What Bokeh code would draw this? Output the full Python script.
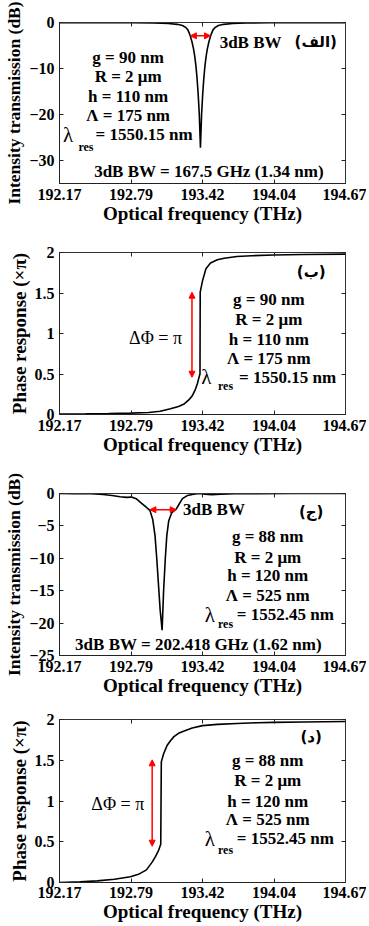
from bokeh.plotting import figure
from bokeh.layouts import column
from bokeh.models import FixedTicker, LinearAxis, Arrow, NormalHead, Range1d
from bokeh.core.properties import value
from bokeh.embed import file_html
from bokeh.resources import INLINE

# ---------------- data ----------------
x_ticks = [192.17, 192.795, 193.42, 194.045, 194.67]
x_tick_labels = ["192.17", "192.79", "193.42", "194.04", "194.67"]

# (a) intensity transmission, design 1
freq_a = [192.17, 192.50, 192.80, 193.00, 193.12, 193.20, 193.245, 193.272, 193.292, 193.304,
          193.314, 193.329, 193.342, 193.352, 193.362, 193.372, 193.382, 193.392, 193.402,
          193.412, 193.422, 193.432, 193.442, 193.452, 193.462, 193.475, 193.490, 193.500,
          193.512, 193.532, 193.559, 193.604, 193.684, 193.80, 194.00, 194.30, 194.67]
trans_a = [-0.03, -0.04, -0.07, -0.12, -0.22, -0.4, -0.65, -1.05, -1.6, -2.3,
           -3.0, -4.3, -5.8, -7.3, -9.3, -12.0, -15.5, -20.0, -27.2,
           -20.0, -15.5, -12.0, -9.3, -7.3, -5.8, -4.3, -3.0, -2.3,
           -1.6, -1.05, -0.65, -0.4, -0.22, -0.12, -0.07, -0.04, -0.03]

# (b) phase response, design 1
freq_b = [192.17, 192.40, 192.60, 192.79, 192.95, 193.05, 193.14, 193.21, 193.26, 193.30,
          193.33, 193.355, 193.375, 193.388, 193.398, 193.400, 193.42, 193.45, 193.49, 193.55,
          193.61, 193.72, 193.85, 194.04, 194.30, 194.67]
phase_b = [0.005, 0.008, 0.012, 0.017, 0.025, 0.04, 0.07, 0.10, 0.13, 0.18,
           0.23, 0.30, 0.38, 0.45, 0.50, 1.51, 1.65, 1.80, 1.87, 1.91,
           1.93, 1.95, 1.96, 1.97, 1.975, 1.98]

# (c) intensity transmission, design 2
freq_c = [192.17, 192.30, 192.45, 192.55, 192.63, 192.70, 192.76, 192.80, 192.84, 192.88,
          192.92, 192.96, 192.985, 193.005, 193.02, 193.035, 193.05, 193.067, 193.08, 193.095,
          193.108, 193.125, 193.15, 193.19, 193.22, 193.245, 193.29, 193.33, 193.37, 193.40,
          193.44, 193.50, 193.58, 193.70, 193.90, 194.20, 194.67]
trans_c = [0.0, -0.02, -0.05, -0.15, -0.3, -0.5, -0.6, -0.55, -0.8, -1.4,
           -2.0, -2.6, -4.0, -6.5, -10.0, -14.0, -18.0, -21.1, -15.0, -10.0,
           -6.5, -4.2, -3.0, -2.4, -1.5, -0.8, -0.3, -0.15, -0.05, 0.0,
           -0.12, -0.2, -0.1, -0.05, -0.03, -0.01, 0.0]

# (d) phase response, design 2
freq_d = [192.17, 192.35, 192.50, 192.65, 192.79, 192.86, 192.93, 192.98, 193.01, 193.035,
          193.055, 193.06, 193.08, 193.11, 193.14, 193.17, 193.21, 193.26, 193.33, 193.42,
          193.55, 193.72, 193.90, 194.04, 194.30, 194.67]
phase_d = [0.0, 0.01, 0.02, 0.04, 0.07, 0.10, 0.155, 0.25, 0.32, 0.39,
           0.47, 1.48, 1.58, 1.68, 1.74, 1.79, 1.83, 1.86, 1.895, 1.925,
           1.94, 1.95, 1.96, 1.965, 1.97, 1.975]

params_1 = ["g = 90 nm", "R = 2 \u03bcm", "h = 110 nm", "\u039b = 175 nm"]
params_2 = ["g = 88 nm", "R = 2 \u03bcm", "h = 120 nm", "\u039b = 525 nm"]
lres_1 = "= 1550.15 nm"
lres_2 = "= 1552.45 nm"
bw_text_1 = "3dB BW = 167.5 GHz (1.34 nm)"
bw_text_2 = "3dB BW = 202.418 GHz (1.62 nm)"
bw_edges_1 = [193.314, 193.490]
bw_level_1 = -2.9
bw_edges_2 = [192.96, 193.19]
bw_level_2 = -2.5
panel_tags = ["(\u0627\u0644\u0641)", "(\u0628)", "(\u062c)", "(\u062f)"]

FONT = "Liberation Serif"
SERIF = value(FONT)
ARABIC = value("DejaVu Sans")


def make_panel(height, top, bottom, y_lo, y_hi, yticks, ylabel, ylabel_size):
    p = figure(width=366, height=height, output_backend="svg", toolbar_location=None,
               x_range=Range1d(192.17, 194.67), y_range=Range1d(y_lo, y_hi),
               min_border_left=59, min_border_right=21, min_border_top=top,
               min_border_bottom=bottom, background_fill_color="white")
    p.xgrid.visible = False
    p.ygrid.visible = False
    p.outline_line_color = "#333333"
    p.outline_line_width = 1
    for ax in p.xaxis:
        ax.ticker = FixedTicker(ticks=x_ticks)
        ax.major_label_overrides = dict(zip(x_ticks, x_tick_labels))
        ax.axis_label = "Optical frequency (THz)"
        ax.major_label_standoff = 5
        ax.axis_label_standoff = 0
        ax.axis_label_text_font_size = "19px"
    for ax in p.yaxis:
        ax.ticker = FixedTicker(ticks=yticks)
        ax.axis_label = ylabel
        ax.major_label_standoff = 5
        ax.axis_label_standoff = 2
        ax.axis_label_text_font_size = ylabel_size
    for ax in list(p.xaxis) + list(p.yaxis):
        ax.major_tick_in = 4
        ax.major_tick_out = 0
        ax.minor_tick_in = 0
        ax.minor_tick_out = 0
        ax.axis_line_color = "#222222"
        ax.major_tick_line_color = "#222222"
        ax.major_label_text_font = FONT
        ax.major_label_text_font_style = "bold"
        ax.major_label_text_font_size = "16px"
        ax.major_label_text_color = "black"
        ax.axis_label_text_font = FONT
        ax.axis_label_text_font_style = "bold"
        ax.axis_label_text_color = "black"
    # mirrored ticks on top and right
    top_ax = LinearAxis(ticker=FixedTicker(ticks=x_ticks),
                        major_label_overrides={t: "" for t in x_ticks},
                        major_label_text_font_size="0px", major_label_standoff=0,
                        major_tick_in=4, major_tick_out=0, minor_tick_in=0, minor_tick_out=0,
                        axis_line_color="#333333", major_tick_line_color="#222222")
    right_ax = LinearAxis(ticker=FixedTicker(ticks=yticks),
                          major_label_overrides={t: "" for t in yticks},
                          major_label_text_font_size="0px", major_label_standoff=0,
                          major_tick_in=4, major_tick_out=0, minor_tick_in=0, minor_tick_out=0,
                          axis_line_color="#333333", major_tick_line_color="#222222")
    p.add_layout(top_ax, "above")
    p.add_layout(right_ax, "right")
    return p


def add_params(p, xc, ys, texts, lam_x, lam_y, res_x, res_y, eq_x, eq_text):
    p.text(x=[xc] * len(ys), y=ys, text=texts, text_font=SERIF, text_font_style="bold",
           text_font_size="17px", text_align="center", text_baseline="middle", text_color="black")
    p.text(x=[lam_x], y=[lam_y], text=["\u03bb"], text_font=SERIF, text_font_size="21px",
           text_align="left", text_baseline="middle", text_color="black")
    p.text(x=[res_x], y=[res_y], text=["res"], text_font=SERIF, text_font_style="bold",
           text_font_size="12px", text_align="left", text_baseline="middle", text_color="black")
    p.text(x=[eq_x], y=[lam_y], text=[eq_text], text_font=SERIF, text_font_style="bold",
           text_font_size="17px", text_align="left", text_baseline="middle", text_color="black")


def add_tag(p, x, y, tag):
    p.text(x=[x], y=[y], text=[tag], text_font=ARABIC, text_font_style="bold",
           text_font_size="15px", text_align="center", text_baseline="middle", text_color="black")


def red_arrow(p, x0, y0, x1, y1):
    p.add_layout(Arrow(start=NormalHead(size=6, fill_color="red", line_color="red", line_width=1),
                       end=NormalHead(size=6, fill_color="red", line_color="red", line_width=1),
                       x_start=x0, y_start=y0, x_end=x1, y_end=y1,
                       line_color="red", line_width=1.5))


# ---------- panel (a) ----------
p1 = make_panel(238, 22, 55, -35, 0, [-30, -20, -10, 0], "Intensity transmission (dB)", "17.5px")
p1.line(freq_a, trans_a, line_color="black", line_width=1.6)
red_arrow(p1, bw_edges_1[0], bw_level_1, bw_edges_1[1], bw_level_1)
p1.text(x=[193.57], y=[-4.3], text=["3dB BW"], text_font=SERIF, text_font_style="bold",
        text_font_size="17px", text_align="left", text_baseline="middle", text_color="black")
add_tag(p1, 194.41, -4.3, panel_tags[0])
add_params(p1, 192.77, [-7.5, -11.8, -16.0, -20.3], params_1,
           192.20, -24.4, 192.335, -27.1, 192.485, lres_1)
p1.text(x=[193.477], y=[-32.3], text=[bw_text_1], text_font=SERIF, text_font_style="bold",
        text_font_size="17px", text_align="center", text_baseline="middle", text_color="black")

# ---------- panel (b) ----------
p2 = make_panel(232, 14, 56, 0, 2, [0, 0.5, 1, 1.5, 2], "Phase response (\u00d7\u03c0)", "19px")
p2.line(freq_b, phase_b, line_color="black", line_width=1.6)
red_arrow(p2, 193.328, 0.46, 193.328, 1.51)
p2.text(x=[193.01], y=[0.94], text=["\u0394\u03a6 = \u03c0"], text_font=SERIF,
        text_font_size="18px", text_align="center", text_baseline="middle", text_color="black")
add_tag(p2, 194.37, 1.76, panel_tags[1])
add_params(p2, 194.0, [1.42, 1.17, 0.93, 0.695], params_1,
           193.41, 0.46, 193.555, 0.35, 193.74, lres_1)

# ---------- panel (c) ----------
p3 = make_panel(235, 23, 50, -25, 0, [-25, -20, -15, -10, -5, 0], "Intensity transmission (dB)", "17.5px")
p3.line(freq_c, trans_c, line_color="black", line_width=1.6)
red_arrow(p3, bw_edges_2[0], bw_level_2, bw_edges_2[1], bw_level_2)
p3.text(x=[193.25], y=[-2.5], text=["3dB BW"], text_font=SERIF, text_font_style="bold",
        text_font_size="17px", text_align="left", text_baseline="middle", text_color="black")
add_tag(p3, 194.37, -2.9, panel_tags[2])
add_params(p3, 193.99, [-6.6, -9.8, -12.7, -15.7], params_2,
           193.44, -18.7, 193.555, -20.2, 193.72, lres_2)
p3.text(x=[193.385], y=[-23.3], text=[bw_text_2], text_font=SERIF, text_font_style="bold",
        text_font_size="17px", text_align="center", text_baseline="middle", text_color="black")

# ---------- panel (d) ----------
p4 = make_panel(219, 14, 42, 0, 2, [0, 0.5, 1, 1.5, 2], "Phase response (\u00d7\u03c0)", "19px")
for ax in p4.xaxis:
    ax.major_label_standoff = 4
p4.line(freq_d, phase_d, line_color="black", line_width=1.6)
red_arrow(p4, 192.98, 0.445, 192.98, 1.505)
p4.text(x=[192.68], y=[0.965], text=["\u0394\u03a6 = \u03c0"], text_font=SERIF,
        text_font_size="18px", text_align="center", text_baseline="middle", text_color="black")
add_tag(p4, 194.37, 1.78, panel_tags[3])
add_params(p4, 193.99, [1.50, 1.25, 1.0, 0.77], params_2,
           193.44, 0.535, 193.555, 0.40, 193.72, lres_2)

layout = column(p1, p2, p3, p4, spacing=0)
open("out.html", "w").write(file_html(layout, INLINE))
